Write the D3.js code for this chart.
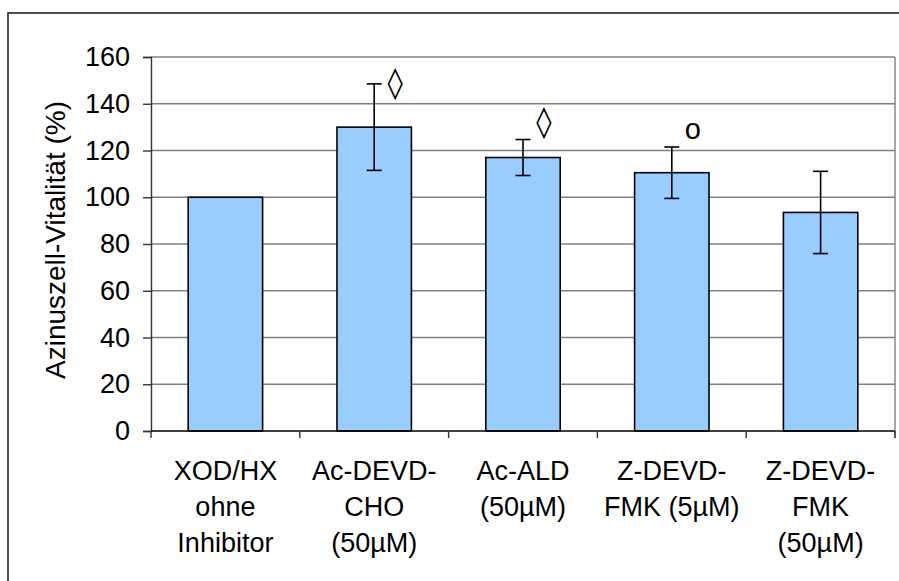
<!DOCTYPE html>
<html>
<head>
<meta charset="utf-8">
<script src="https://cdn.jsdelivr.net/npm/d3@7"></script>
<style>
  body { margin: 0; background: #fff; }
  text { font-family: Arial, "Liberation Sans", sans-serif; fill: #000; }
</style>
</head>
<body>
<svg id="chart" width="899" height="581"></svg>
<script>
// categories (lines of each x label)
const categories = [
  ["XOD/HX", "ohne", "Inhibitor"],
  ["Ac-DEVD-", "CHO", "(50µM)"],
  ["Ac-ALD", "(50µM)"],
  ["Z-DEVD-", "FMK (5µM)"],
  ["Z-DEVD-", "FMK", "(50µM)"]
]
const values = [100, 130, 117, 110.5, 93.5]
const errors = [0, 18.5, 7.7, 11, 17.6]
// significance markers and their height (in % units)
const markers = ["", "◊", "◊", "o", ""]
const markerLevels = [0, 149, 132, 129, 0]
const yTicks = [0, 20, 40, 60, 80, 100, 120, 140, 160]

const svg = d3.select("#chart")
const plotLeft = 151, plotRight = 895, plotTop = 57, plotBottom = 431

// outer frame
svg.append("rect")
  .attr("x", 8).attr("y", 13)
  .attr("width", 1000).attr("height", 1000)
  .attr("fill", "none").attr("stroke", "#222").attr("stroke-width", 1.6)

const x = d3.scaleBand()
  .domain(d3.range(categories.length))
  .range([plotLeft, plotRight])
  .paddingInner(0.5).paddingOuter(0.25)
const y = d3.scaleLinear().domain([0, 160]).range([plotBottom, plotTop])

// gridlines
svg.append("g").selectAll("line")
  .data(yTicks.filter(d => d > 0))
  .join("line")
  .attr("x1", plotLeft).attr("x2", plotRight)
  .attr("y1", d => y(d)).attr("y2", d => y(d))
  .attr("stroke", "#808080").attr("stroke-width", 1.4)

// plot area right border
svg.append("line")
  .attr("x1", plotRight).attr("x2", plotRight)
  .attr("y1", plotTop).attr("y2", plotBottom + 7)
  .attr("stroke", "#808080").attr("stroke-width", 1.4)

// y axis
const yAxis = svg.append("g")
  .attr("transform", `translate(${plotLeft},0)`)
  .call(d3.axisLeft(y).tickValues(yTicks).tickSize(8).tickPadding(13))
yAxis.select(".domain").attr("stroke", "#333").attr("stroke-width", 1.4)
yAxis.selectAll(".tick line").attr("stroke", "#333").attr("stroke-width", 1.4)
yAxis.selectAll(".tick text")
  .style("font-size", "27px").style("font-family", "Arial, 'Liberation Sans', sans-serif")
  .attr("fill", "#000")

// bars
svg.append("g").selectAll("rect")
  .data(values)
  .join("rect")
  .attr("x", (d, i) => x(i))
  .attr("y", d => y(d))
  .attr("width", x.bandwidth())
  .attr("height", d => y(0) - y(d))
  .attr("fill", "#99ccff")
  .attr("stroke", "#000").attr("stroke-width", 1.6)

// x axis baseline + ticks between categories
const step = x.step()
svg.append("line")
  .attr("x1", plotLeft).attr("x2", plotRight)
  .attr("y1", plotBottom).attr("y2", plotBottom)
  .attr("stroke", "#000").attr("stroke-width", 1.6)
svg.append("g").selectAll("line")
  .data(d3.range(categories.length + 1))
  .join("line")
  .attr("x1", i => plotLeft + i * step).attr("x2", i => plotLeft + i * step)
  .attr("y1", plotBottom).attr("y2", plotBottom + 7)
  .attr("stroke", "#333").attr("stroke-width", 1.4)

// error bars
const eb = svg.append("g").attr("stroke", "#000").attr("stroke-width", 1.6)
values.forEach((v, i) => {
  if (!errors[i]) return
  const cx = x(i) + x.bandwidth() / 2
  eb.append("line").attr("x1", cx).attr("x2", cx)
    .attr("y1", y(v + errors[i])).attr("y2", y(v - errors[i]))
  ;[v + errors[i], v - errors[i]].forEach(e => {
    eb.append("line").attr("x1", cx - 7.5).attr("x2", cx + 7.5)
      .attr("y1", y(e)).attr("y2", y(e))
  })
})

// significance markers
svg.append("g").selectAll("text")
  .data(markers)
  .join("text")
  .attr("x", (d, i) => x(i) + x.bandwidth() / 2 + 21)
  .attr("y", (d, i) => y(markerLevels[i]))
  .attr("dy", d => d === "◊" ? "0.32em" : "0.33em")
  .attr("text-anchor", "middle")
  .style("font-size", d => d === "◊" ? "31px" : "29px")
  .style("font-family", d => d === "o" ? "Arial, 'Liberation Sans', sans-serif" : "'DejaVu Sans', sans-serif")
  .style("font-weight", "normal")
  .text(d => d)

// x labels
svg.append("g").selectAll("text")
  .data(categories)
  .join("text")
  .attr("text-anchor", "middle")
  .attr("x", (d, i) => x(i) + x.bandwidth() / 2)
  .attr("y", 480)
  .style("font-size", "27px")
  .selectAll("tspan")
  .data(d => d)
  .join("tspan")
  .attr("x", function () { return this.parentNode.getAttribute("x") })
  .attr("dy", (d, j) => j === 0 ? 0 : 36)
  .text(d => d)

// y title
svg.append("text")
  .attr("transform", "translate(65,240) rotate(-90)")
  .attr("text-anchor", "middle")
  .style("font-size", "28px")
  .text("Azinuszell-Vitalität (%)")
</script>
</body>
</html>
